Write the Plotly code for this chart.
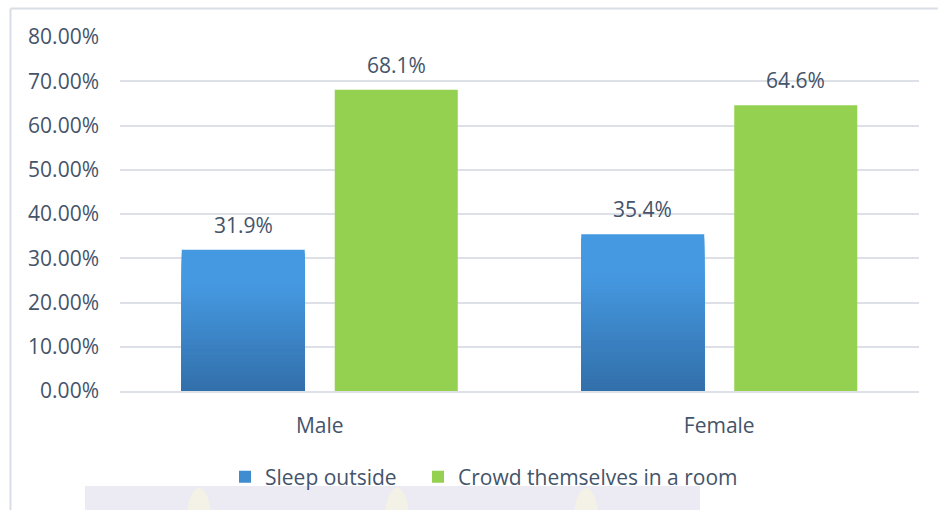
import plotly.graph_objects as go

categories = ["Male", "Female"]
sleep_outside = [0.319, 0.354]
crowd_room = [0.681, 0.646]
series_names = ["Sleep outside", "Crowd themselves in a room"]
y_ticks = [0, 0.1, 0.2, 0.3, 0.4, 0.5, 0.6, 0.7, 0.8]

TEXT = "#44546A"
FONT = "Open Sans"
FS = 21
BLUE_TOP = (69, 153, 225)
BLUE_BOT = (50, 111, 170)
GREEN = "#94D150"

W, H = 938, 510
L, R, T, B = 120, 19, 37, 119
PW, PH = W - L - R, H - T - B


def px(xp):
    return (xp - L) / PW


def py(yp):
    return (H - B - yp) / PH


fig = go.Figure()

# Blue bars with a vertical gradient: overlapping bars from 0 to a fraction of each value,
# tallest first so each shorter one paints over the lower part.
N = 40
for i in range(N - 1, -1, -1):
    f0, f1 = i / N, (i + 1) / N
    t = min(1.0, ((f0 + f1) / 2) / 0.75)
    col = tuple(round(BLUE_BOT[k] + (BLUE_TOP[k] - BLUE_BOT[k]) * t) for k in range(3))
    fig.add_trace(go.Bar(
        x=categories,
        y=[v * f1 for v in sleep_outside],
        offsetgroup="a",
        marker=dict(color="rgb(%d,%d,%d)" % col, line=dict(width=0)),
        name=series_names[0],
        showlegend=(i == N // 2),
        legend="legend",
        hoverinfo="skip",
    ))

fig.add_trace(go.Bar(
    x=categories, y=crowd_room, offsetgroup="b",
    marker=dict(color=GREEN, line=dict(width=0)),
    name=series_names[1], legend="legend2",
))

slot = PW / len(categories) * (1 - 0.234) / 2
for c, v in zip(categories, sleep_outside):
    fig.add_annotation(x=c, y=v, xref="x", yref="y", text="%.1f%%" % (v * 100),
                       showarrow=False, xshift=-slot / 2, yshift=25,
                       font=dict(family=FONT, size=FS, color=TEXT))
for c, v in zip(categories, crowd_room):
    fig.add_annotation(x=c, y=v, xref="x", yref="y", text="%.1f%%" % (v * 100),
                       showarrow=False, xshift=slot / 2, yshift=25,
                       font=dict(family=FONT, size=FS, color=TEXT))

shapes = [
    # chart border (left and top edges visible)
    dict(type="line", xref="paper", yref="paper", x0=px(10.5), x1=px(W + 5), y0=py(8.5), y1=py(8.5),
         line=dict(color="#D9DEE6", width=2), layer="below"),
    dict(type="line", xref="paper", yref="paper", x0=px(10.5), x1=px(10.5), y0=py(8.5), y1=py(H + 5),
         line=dict(color="#D9DEE6", width=2), layer="below"),
    # faint watermark strip at the bottom
    dict(type="rect", xref="paper", yref="paper", x0=px(85), x1=px(700), y0=py(486), y1=py(H + 5),
         fillcolor="#ECEBF3", line=dict(width=0), layer="below"),
]
for cx in [199, 397, 586]:
    shapes.append(dict(type="circle", xref="paper", yref="paper", x0=px(cx - 12), x1=px(cx + 12),
                       y0=py(488), y1=py(H + 40), fillcolor="#F4F1E6", line=dict(width=0), layer="below"))

legend_style = dict(orientation="h", xanchor="left", y=py(477), yanchor="middle",
                    font=dict(family=FONT, size=FS, color=TEXT), bgcolor="rgba(0,0,0,0)",
                    itemclick=False, itemdoubleclick=False)

fig.update_layout(
    width=W, height=H,
    margin=dict(l=L, r=R, t=T, b=B),
    paper_bgcolor="white", plot_bgcolor="rgba(0,0,0,0)",
    barmode="group", bargap=0.234, bargroupgap=0.196,
    font=dict(family=FONT, size=FS, color=TEXT),
    shapes=shapes,
    legend=dict(x=px(225), **legend_style),
    legend2=dict(x=px(418), **legend_style),
    showlegend=True,
)
fig.update_yaxes(range=[0, 0.8], tickvals=y_ticks, tickformat=".2%", showgrid=True,
                 gridcolor="#DDE1E7", gridwidth=1.5, zeroline=False, showline=False,
                 ticklabelstandoff=20, tickfont=dict(family=FONT, size=FS, color=TEXT))
fig.update_xaxes(showgrid=False, showline=True, linecolor="#DDE1E7", linewidth=1.5,
                 ticks="", ticklabelstandoff=15, tickfont=dict(family=FONT, size=FS, color=TEXT))

fig.write_html("out.html")
